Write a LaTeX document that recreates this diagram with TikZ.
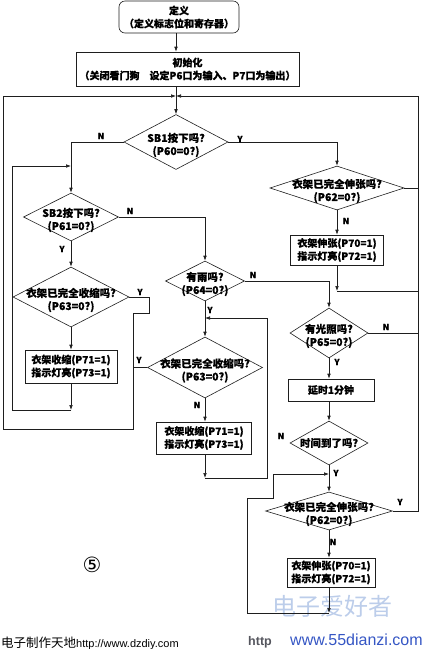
\documentclass[tikz,border=0pt]{standalone}
\usepackage{fontspec}
\newfontfamily\cjk[FakeBold=0.5]{Noto Sans CJK SC}
\newfontfamily\plaincjk{Noto Sans CJK SC}
\newfontfamily\sitefont{Liberation Sans}
\newfontfamily\circfont{DejaVu Sans}
\usetikzlibrary{arrows.meta,shapes.geometric}
\definecolor{Ink}{HTML}{1E1E1E}
\definecolor{Wash}{HTML}{BCCDEA}
\definecolor{Site}{HTML}{3556C4}
\definecolor{Grey}{HTML}{55565E}

\begin{document}
\begin{tikzpicture}[x=1pt,y=-1pt,
  line/.style={draw=Ink,line width=0.6pt},
  arr/.style={line,-{Latex[length=5pt,width=3.6pt]}},
  box/.style={line,rectangle,inner sep=0pt,align=center,font=\cjk\bfseries\fontsize{10}{13}\selectfont},
  dec/.style={line,diamond,inner sep=0pt},
  qtext/.style={inner sep=0pt,align=center,font=\cjk\bfseries\fontsize{10.5}{13}\selectfont},
  yn/.style={inner sep=0pt,font=\cjk\bfseries\fontsize{8.5}{10}\selectfont}]
  \useasboundingbox (0,0) rectangle (428,649);

  % watermark behind the chart
  \node[inner sep=0pt,text=Wash,font=\plaincjk\fontsize{24}{24}\selectfont] (mark) at (332,606) {电子爱好者};

  % process boxes
  \node[box,rounded corners=6pt,minimum width=120pt,minimum height=32pt] (def) at (179,17) {定义\\（定义标志位和寄存器）};
  \node[box,minimum width=223pt,minimum height=34pt] (init) at (187.5,69) {初始化\\（关闭看门狗　设定P6口为输入、P7口为输出）};
  \node[box,minimum width=93pt,minimum height=30pt] (stretch1) at (337,250) {衣架伸张(P70=1)\\指示灯亮(P72=1)};
  \node[box,minimum width=92pt,minimum height=33pt] (shrink1) at (71,366.5) {衣架收缩(P71=1)\\指示灯亮(P73=1)};
  \node[box,minimum width=95pt,minimum height=32pt] (shrink2) at (204,438) {衣架收缩(P71=1)\\指示灯亮(P73=1)};
  \node[box,minimum width=86pt,minimum height=22pt] (delay) at (331,390) {延时1分钟};
  \node[box,minimum width=88pt,minimum height=29pt] (stretch2) at (331,572.5) {衣架伸张(P70=1)\\指示灯亮(P72=1)};

  % decisions
  \node[dec,minimum width=104pt,minimum height=55pt] (sb1) at (176,142) {};
  \node[qtext] (sb1t) at ([yshift=-3pt]sb1.center) {SB1按下吗?\\(P60=0?)};
  \node[dec,minimum width=95pt,minimum height=48pt] (sb2) at (71,217) {};
  \node[qtext] (sb2t) at ([yshift=-3pt]sb2.center) {SB2按下吗?\\(P61=0?)};
  \node[dec,minimum width=134pt,minimum height=44pt] (ext1) at (337,188) {};
  \node[qtext] (ext1t) at ([yshift=-3pt]ext1.center) {衣架已完全伸张吗?\\(P62=0?)};
  \node[dec,minimum width=116pt,minimum height=60pt] (ret1) at (71,297) {};
  \node[qtext] (ret1t) at ([yshift=-3pt]ret1.center) {衣架已完全收缩吗?\\(P63=0?)};
  \node[dec,minimum width=79pt,minimum height=40pt] (rain) at (205,281) {};
  \node[qtext] (raint) at ([yshift=-3pt]rain.center) {有雨吗?\\(P64=0?)};
  \node[dec,minimum width=115pt,minimum height=61pt] (ret2) at (205,367.5) {};
  \node[qtext] (ret2t) at ([yshift=-3pt]ret2.center) {衣架已完全收缩吗?\\(P63=0?)};
  \node[dec,minimum width=78pt,minimum height=50pt] (light) at (329,333) {};
  \node[qtext] (lightt) at ([yshift=-3pt]light.center) {有光照吗?\\(P65=0?)};
  \node[dec,minimum width=78pt,minimum height=44pt] (time) at (329,443) {};
  \node[qtext] (timet) at (time.center) {时间到了吗?};
  \node[dec,minimum width=127pt,minimum height=38pt] (ext2) at (329,511) {};
  \node[qtext] (ext2t) at ([yshift=-3pt]ext2.center) {衣架已完全伸张吗?\\(P62=0?)};

  % junctions
  \coordinate (topj) at (176,96);
  \coordinate (jl1) at (71,410);
  \coordinate (jl2) at (71,166);
  \coordinate (jm1) at (205,478);
  \coordinate (jm2) at (205,318);
  \coordinate (jr1) at (337,291);
  \coordinate (jr2) at (329,613);
  \coordinate (jr3) at (329,474);

  % main flow
  \draw[arr] (def.south -| sb1) -- (init.north -| sb1);
  \draw[arr] (init.south -| sb1) -- (sb1.north);
  \draw[arr] (sb1.west) -| (sb2.north);
  \draw[arr] (sb1.east) -| (ext1.north);
  \draw[arr] (sb2.east) -| (rain.north);
  \draw[arr] (sb2.south) -- (ret1.north);
  \draw[arr] (ret1.south) -- (shrink1.north);
  \draw[arr] (shrink1.south) -- (jl1);
  \draw[arr] (jl1) -- (12,410) -- (12,166) -- (jl2);
  \draw[arr] (ext1.south) -- (stretch1.north);
  \draw[arr] (stretch1.south) -- (jr1);
  \draw[line] (jr1) -- (418,291);
  \draw[line] (ext1.east) -- (418,188);
  \draw[arr] (rain.east) -| (light.north);
  \draw[arr] (rain.south) -- (ret2.north);
  \draw[arr] (ret2.south) -- (ret2.south |- shrink2.north);
  \draw[arr] (shrink2.south -| ret2) -- (jm1);
  \draw[arr] (jm1) -- (267,478) -- (267,318) -- (jm2);
  \draw[line] (light.east) -- (418,333);
  \draw[arr] (light.south) -- (light.south |- delay.north);
  \draw[arr] (delay.south -| light) -- (time.north);
  \draw[arr] (time.south) -- (ext2.north);
  \draw[arr] (ext2.south) -- (ext2.south |- stretch2.north);
  \draw[arr] (stretch2.south -| ext2) -- (jr2);
  \draw[arr] (jr2) -- (247,613) -- (247,498) -- (273,498) -- (273,474) -- (jr3);

  % return loops
  \draw[arr] (ret1.east) -- (149,297) -- (149,313) -- (133,313) -- (133,429) -- (3,429) -- (3,96) -- (topj);
  \draw[line] (ret2.west) -- ++(-14.5,0);
  \draw[arr] (ext2.east) -- (418,511) -- (418,96) -- (topj);

  % branch labels
  \node[yn] (n1) at (101,136) {N};
  \node[yn] (y1) at (240,139) {Y};
  \node[yn] (n2) at (130,211) {N};
  \node[yn] (y2) at (62,249) {Y};
  \node[yn] (y3) at (140,292) {Y};
  \node[yn] (y4) at (139,360) {Y};
  \node[yn] (n3) at (346,221) {N};
  \node[yn] (n4) at (253,275) {N};
  \node[yn] (y5) at (210,310) {Y};
  \node[yn] (n5) at (197,405) {N};
  \node[yn] (n6) at (386,327) {N};
  \node[yn] (y6) at (337,362) {Y};
  \node[yn] (n7) at (281,436) {N};
  \node[yn] (y7) at (336,473) {Y};
  \node[yn] (y8) at (400,502) {Y};
  \node[yn] (n8) at (333,542) {N};

  % figure number and credits
  \node[inner sep=0pt,font=\circfont\fontsize{21}{21}\selectfont] (num) at (92,565) {⑤};
  \node[anchor=base west,inner sep=0pt] (credit) at (1,647) {{\plaincjk\fontsize{12.5}{14}\selectfont 电子制作天地}{\sitefont\fontsize{11}{13}\selectfont http://www.dzdiy.com}};
  \node[anchor=base west,inner sep=0pt,text=Grey,font=\sitefont\bfseries\fontsize{12.5}{14}\selectfont] (http) at (248,645) {http};
  \node[anchor=base west,inner sep=0pt,text=Site,font=\sitefont\fontsize{16}{18}\selectfont] (url) at (290,645) {www.55dianzi.com};
\end{tikzpicture}
\end{document}
